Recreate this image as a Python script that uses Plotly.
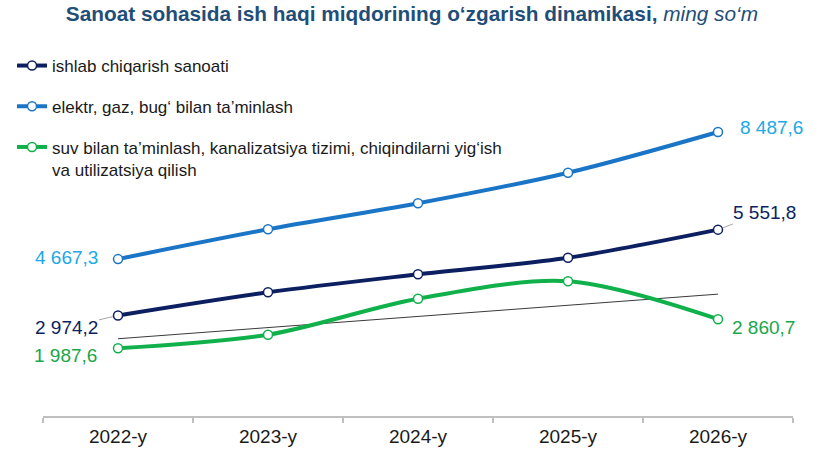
import numpy as np
import plotly.graph_objects as go

# ---- data ----
years = ["2022-y", "2023-y", "2024-y", "2025-y", "2026-y"]
ishlab = [2974.2, 3669.0, 4210.0, 4709.0, 5551.8]
elektr = [4667.3, 5562.0, 6344.0, 7263.0, 8487.6]
suv = [1987.6, 2395.0, 3477.0, 4000.0, 2860.7]
names = [
    "ishlab chiqarish sanoati",
    "elektr, gaz, bug‘ bilan ta’minlash",
    "suv bilan ta’minlash, kanalizatsiya tizimi, chiqindilarni yig‘ish<br>va utilizatsiya qilish",
]

def fmt(v):
    s = f"{v:,.1f}"
    return s.replace(",", " ").replace(".", ",")

NAVY = "#0C1F61"
BLUE = "#1A75C6"
LBLUE = "#21A8E6"
GREEN = "#10B14B"
GREEN_T = "#1AA64A"
FONT = "Liberation Sans, Arial, sans-serif"

fig = go.Figure()

# linear trend of the water-supply series
xi = np.arange(len(years))
k, b = np.polyfit(xi, suv, 1)
trend = k * xi + b
fig.add_trace(go.Scatter(x=years, y=trend, mode="lines", line=dict(color="#3A3A3A", width=1),
                         showlegend=False, hoverinfo="skip"))

for vals, name, col, grp in [(ishlab, names[0], NAVY, "a"), (elektr, names[1], BLUE, "b"), (suv, names[2], GREEN, "c")]:
    fig.add_trace(go.Scatter(
        x=years, y=vals, name=name, legendgroup=grp,
        mode="lines+markers",
        line=dict(color=col, width=4, shape="spline", smoothing=0.9),
        marker=dict(symbol="circle", size=9, color="white", line=dict(color=col, width=1.5)),
        cliponaxis=False,
    ))

ann = []
# label without leader lines
for (xv, yv, col, xs, ys) in [
    (years[0], elektr[0], LBLUE, -51.5, 1.7),
    (years[4], elektr[4], LBLUE, 53.2, 4.7),
    (years[0], suv[0], GREEN_T, -52.8, -7.7),
    (years[4], suv[4], GREEN_T, 45.6, -8.6),
]:
    ann.append(dict(x=xv, y=yv, xref="x", yref="y", text=fmt(yv), showarrow=False,
                    xshift=xs, yshift=ys, xanchor="center", yanchor="middle",
                    font=dict(family=FONT, size=19, color=col)))
# labels with leader lines
for (xv, yv, axv, ayv) in [(years[0], ishlab[0], -52, 12), (years[4], ishlab[4], 46.4, -17.6)]:
    ann.append(dict(x=xv, y=yv, xref="x", yref="y", text=fmt(yv), showarrow=True,
                    arrowhead=0, arrowwidth=1, arrowcolor="#A6A6A6", ax=axv, ay=ayv,
                    standoff=5, font=dict(family=FONT, size=19, color=NAVY)))

fig.update_layout(
    width=837, height=457,
    margin=dict(l=43, r=44, t=60, b=41, autoexpand=False),
    paper_bgcolor="white", plot_bgcolor="white",
    font=dict(family=FONT, size=17, color="#1a1a1a"),
    title=dict(
        text="<b>Sanoat sohasida ish haqi miqdorining o‘zgarish dinamikasi,</b> <i>ming so‘m</i>",
        x=0.4919, xref="paper", xanchor="center", y=1 - 14 / 457, yref="container", yanchor="middle",
        font=dict(family=FONT, size=20.8, color="#1F4E79"),
    ),
    showlegend=True,
    legend=dict(
        x=-0.0413, xanchor="left", y=1.0337, yanchor="top",
        traceorder="grouped", tracegroupgap=15.6, valign="top",
        font=dict(family=FONT, size=17, color="#1a1a1a"),
        bgcolor="rgba(0,0,0,0)", borderwidth=0,
    ),
    xaxis=dict(
        type="category", range=[-0.5, 4.5], showgrid=False, zeroline=False,
        showline=True, linecolor="#BFBFBF", linewidth=1.5,
        ticks="outside", tickson="boundaries", ticklen=5, tickcolor="#BFBFBF", tickwidth=1.5,
        ticklabelstandoff=2,
        tickfont=dict(family=FONT, size=19, color="#1a1a1a"),
    ),
    yaxis=dict(range=[-48, 10650], visible=False, showgrid=False, zeroline=False),
    annotations=ann,
)

fig.write_html("out.html", config={"displayModeBar": False},
               post_script="document.body.style.margin='0';")
